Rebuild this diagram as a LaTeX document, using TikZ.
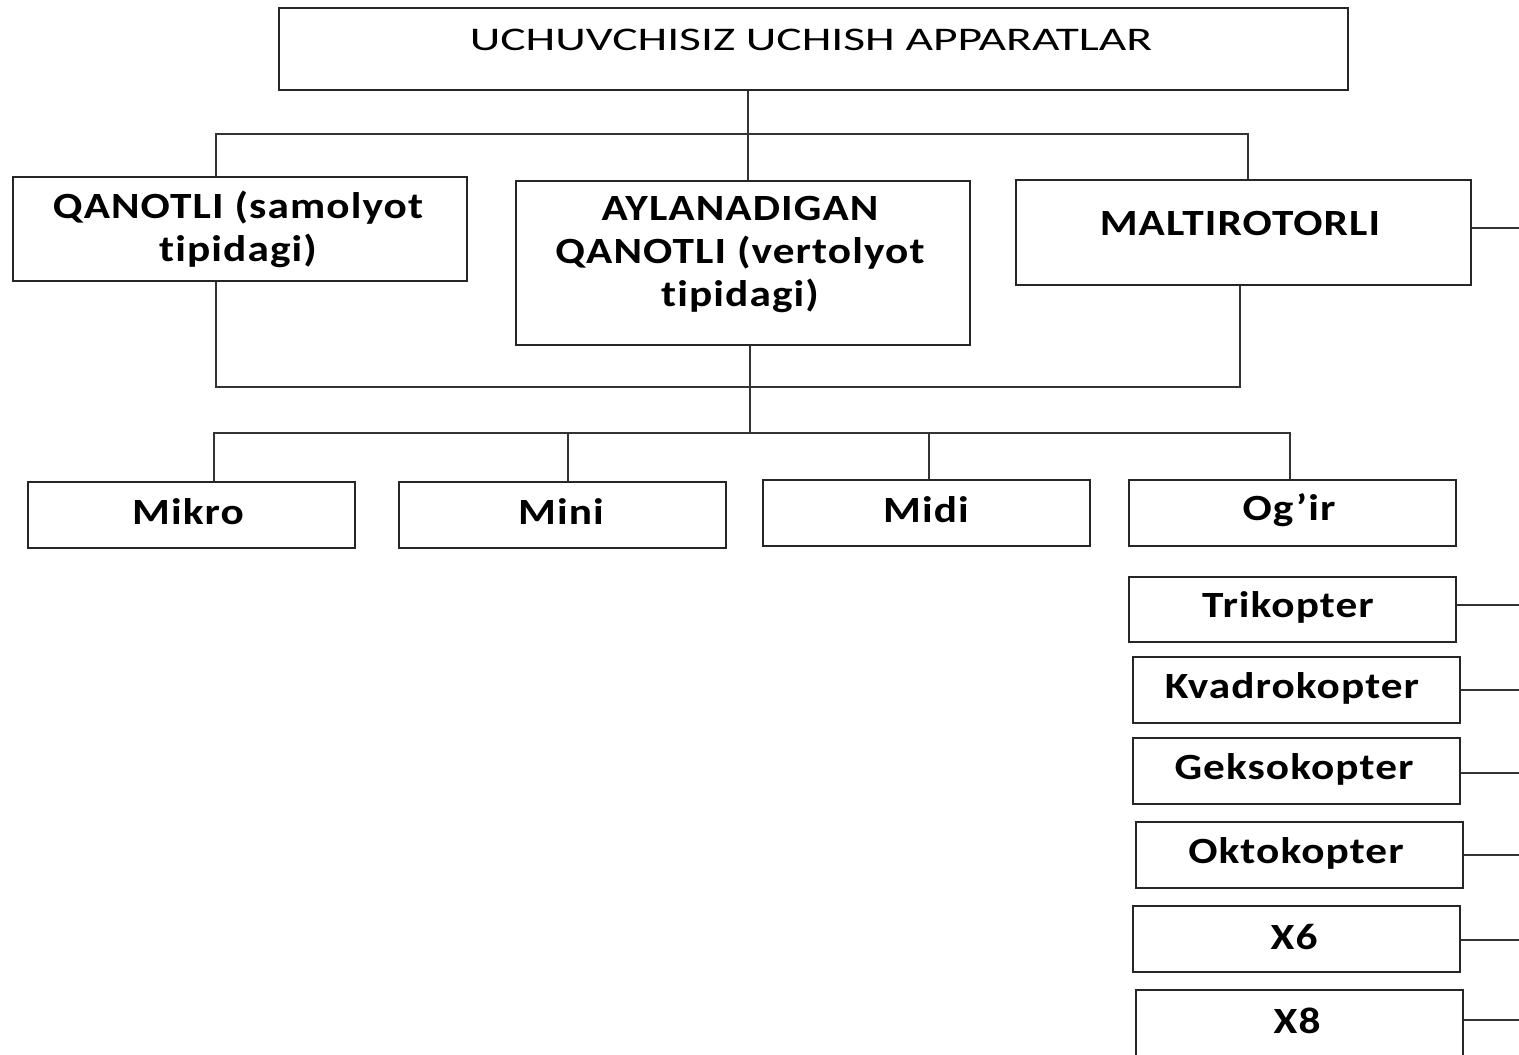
\documentclass[tikz,border=0pt]{standalone}
\usepackage{fontspec}
\setmainfont{Carlito}
\newfontfamily\boxfont{Carlito}[FakeStretch=1.17,LetterSpace=3,Ligatures={NoCommon}]
\newfontfamily\titlefont{Carlito}[FakeStretch=1.44,Ligatures={NoCommon}]
\usetikzlibrary{fit,calc}
\begin{document}
\begin{tikzpicture}[x=0.5pt,y=-0.5pt,
  box/.style={draw=black!85,line width=1pt,inner sep=0pt},
  conn/.style={draw=black!80,line width=1pt},
  lbl/.style={font=\boxfont\bfseries\fontsize{18.5}{21.5}\selectfont,align=center,inner sep=0pt},
  ttl/.style={font=\titlefont\fontsize{16.5}{20}\selectfont,inner sep=0pt}]
\useasboundingbox[fill=white] (0,0) rectangle (1519,1054);
% boxes
\node[box,fit={(279,8) (1348,90)}] (top) {};
\node[box,fit={(13,177) (467,281)}] (q) {};
\node[box,fit={(516,181) (970,345)}] (a) {};
\node[box,fit={(1016,180) (1471,285)}] (m) {};
\node[box,fit={(28,482) (355,548)}] (mikro) {};
\node[box,fit={(399,482) (726,548)}] (mini) {};
\node[box,fit={(763,480) (1090,546)}] (midi) {};
\node[box,fit={(1129,480) (1456,546)}] (ogir) {};
\node[box,fit={(1129,577) (1456,642)}] (tri) {};
\node[box,fit={(1133,657) (1460,723)}] (kva) {};
\node[box,fit={(1133,738) (1460,804)}] (gek) {};
\node[box,fit={(1136,822) (1463,888)}] (okt) {};
\node[box,fit={(1133,906) (1460,972)}] (xsix) {};
\node[box,fit={(1136,990) (1463,1060)}] (xeight) {};
% texts
\node[ttl] (toptext) at (811,40) {UCHUVCHISIZ UCHISH APPARATLAR};
\node[lbl] (qtext) at (238,229) {QANOTLI (samolyot\\tipidagi)};
\node[lbl] (atext) at (740,254) {AYLANADIGAN\\QANOTLI (vertolyot\\tipidagi)};
\node[lbl] (mtext) at (1240,223) {MALTIROTORLI};
\node[lbl] (mikrotext) at (188,512) {Mikro};
\node[lbl] (minitext) at (561,512) {Mini};
\node[lbl] (miditext) at (926,510) {Midi};
\node[lbl] (ogirtext) at (1289,510) {Og’ir};
\node[lbl] (tritext) at (1288,607) {Trikopter};
\node[lbl] (kvatext) at (1292,688) {Kvadrokopter};
\node[lbl] (gektext) at (1294,769) {Geksokopter};
\node[lbl] (okttext) at (1296,853) {Oktokopter};
\node[lbl] (xsixtext) at (1294,937) {X6};
\node[lbl] (xeighttext) at (1297,1021) {X8};
% junction coordinates
\coordinate (j1) at (748,134);
\coordinate (hL) at (216,134);
\coordinate (hR) at (1248,134);
\coordinate (bL) at (216,387);
\coordinate (bR) at (1240,387);
\coordinate (bC) at (750,387);
\coordinate (cC) at (750,433);
\coordinate (cL) at (214,433);
\coordinate (cR) at (1290,433);
\coordinate (cMini) at (568,433);
\coordinate (cMidi) at (929,433);
\coordinate (edge) at (1519,0);
% connectors
\draw[conn] (j1 |- top.south) -- (j1);
\draw[conn] (q.north -| hL) -- (hL) -- (hR) -- (m.north -| hR);
\draw[conn] (j1) -- (a.north -| j1);
\draw[conn] (q.south -| bL) -- (bL) -- (bR) -- (m.south -| bR);
\draw[conn] (a.south -| bC) -- (cC);
\draw[conn] (mikro.north -| cL) -- (cL) -- (cR) -- (ogir.north -| cR);
\draw[conn] (mini.north -| cMini) -- (cMini);
\draw[conn] (midi.north -| cMidi) -- (cMidi);
\draw[conn] ([yshift=2.5]m.east) -- ([yshift=2.5]m.east -| edge);
\draw[conn] ([yshift=2.5]tri.east) -- ([yshift=2.5]tri.east -| edge);
\draw[conn] (kva.east) -- (kva.east -| edge);
\draw[conn] ([yshift=-1]gek.east) -- ([yshift=-1]gek.east -| edge);
\draw[conn] (okt.east) -- (okt.east -| edge);
\draw[conn] ([yshift=-0.5]xsix.east) -- ([yshift=-0.5]xsix.east -| edge);
\draw[conn] ([yshift=2.5]xeight.east) -- ([yshift=2.5]xeight.east -| edge);
\end{tikzpicture}
\end{document}
